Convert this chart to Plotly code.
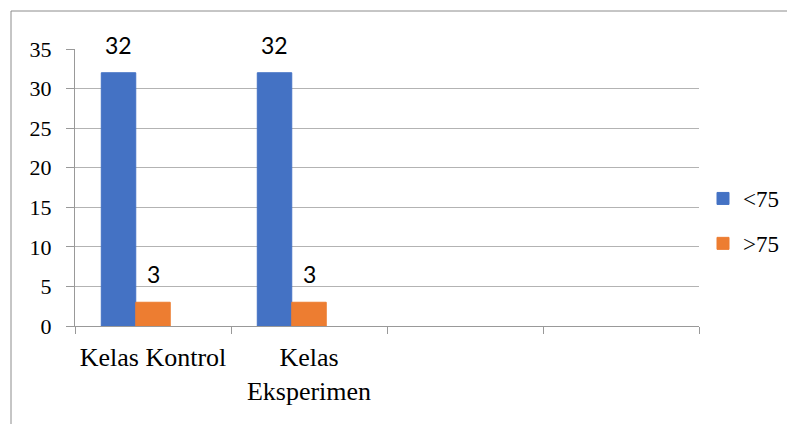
import plotly.graph_objects as go

categories = ["Kelas Kontrol", "Kelas<br>Eksperimen", " ", "  "]
series_names = ["<75", ">75"]
below_75 = [32, 32, None, None]
above_75 = [3, 3, None, None]
y_ticks = [0, 5, 10, 15, 20, 25, 30, 35]

colors = ["#4472C4", "#ED7D31"]
bar_w = 0.221
offsets = [-1.5 * bar_w, -0.5 * bar_w]
SERIF = "Liberation Serif"

fig = go.Figure()
for name, vals, col, off, grp in zip(series_names, [below_75, above_75], colors, offsets, ["a", "b"]):
    fig.add_trace(go.Bar(
        x=categories, y=vals, name=name, width=bar_w, offset=off,
        marker=dict(color=col, line=dict(color=col, width=1)),
        legendgroup=grp,
    ))

annotations = []
for vals, off in zip([below_75, above_75], offsets):
    for i, v in enumerate(vals):
        if v is None:
            continue
        annotations.append(dict(
            x=i + off + bar_w / 2, y=v, xref="x", yref="y", text=str(v),
            showarrow=False, yanchor="middle", yshift=28,
            font=dict(family="Lato", size=23, color="#000000"),
        ))

# the page body adds an 8px offset; compensate so marks land at reference pixels
OFF = 8
L, T, R, B = 75, 49, 699, 326
W, H = 795, 424
pw, ph = R - L, B - T

fig.update_layout(
    width=W - OFF, height=H - OFF,
    margin=dict(l=L - OFF, r=W - R, t=T - OFF, b=H - B, pad=0, autoexpand=False),
    paper_bgcolor="white", plot_bgcolor="white",
    font=dict(family=SERIF, color="#000000"),
    showlegend=True,
    legend=dict(
        x=(703 - L) / pw, xanchor="left", y=(B - 177) / ph, yanchor="top",
        font=dict(family=SERIF, size=23, color="#000000"),
        traceorder="grouped", tracegroupgap=12, bgcolor="rgba(0,0,0,0)",
        itemclick=False,
    ),
    annotations=annotations,
    shapes=[dict(
        type="rect", xref="paper", yref="paper",
        x0=(11 - L) / pw, x1=(W + 20 - L) / pw,
        y0=-(H + 20 - B) / ph, y1=1 + (T - 11) / ph,
        line=dict(color="#8c8c8c", width=1), fillcolor="rgba(0,0,0,0)", layer="below",
    )],
    bargap=0.337,
)

fig.update_xaxes(
    type="category", categoryorder="array", categoryarray=categories,
    range=[-0.5, 3.5],
    showline=True, linecolor="#999999", linewidth=1,
    ticks="outside", tickson="boundaries", ticklen=7, tickcolor="#999999", tickwidth=1,
    showgrid=False,
    tickfont=dict(family=SERIF, size=26, color="#000000"),
    ticklabelstandoff=8,
)
fig.update_yaxes(
    range=[0, 35], tickvals=y_ticks,
    showline=True, linecolor="#999999", linewidth=1,
    ticks="outside", ticklen=8, tickcolor="#999999", tickwidth=1,
    showgrid=True, gridcolor="#b3b3b3", gridwidth=1,
    zeroline=False,
    tickfont=dict(family=SERIF, size=22, color="#000000"),
    ticklabelstandoff=10,
)

fig.write_html("out.html")
